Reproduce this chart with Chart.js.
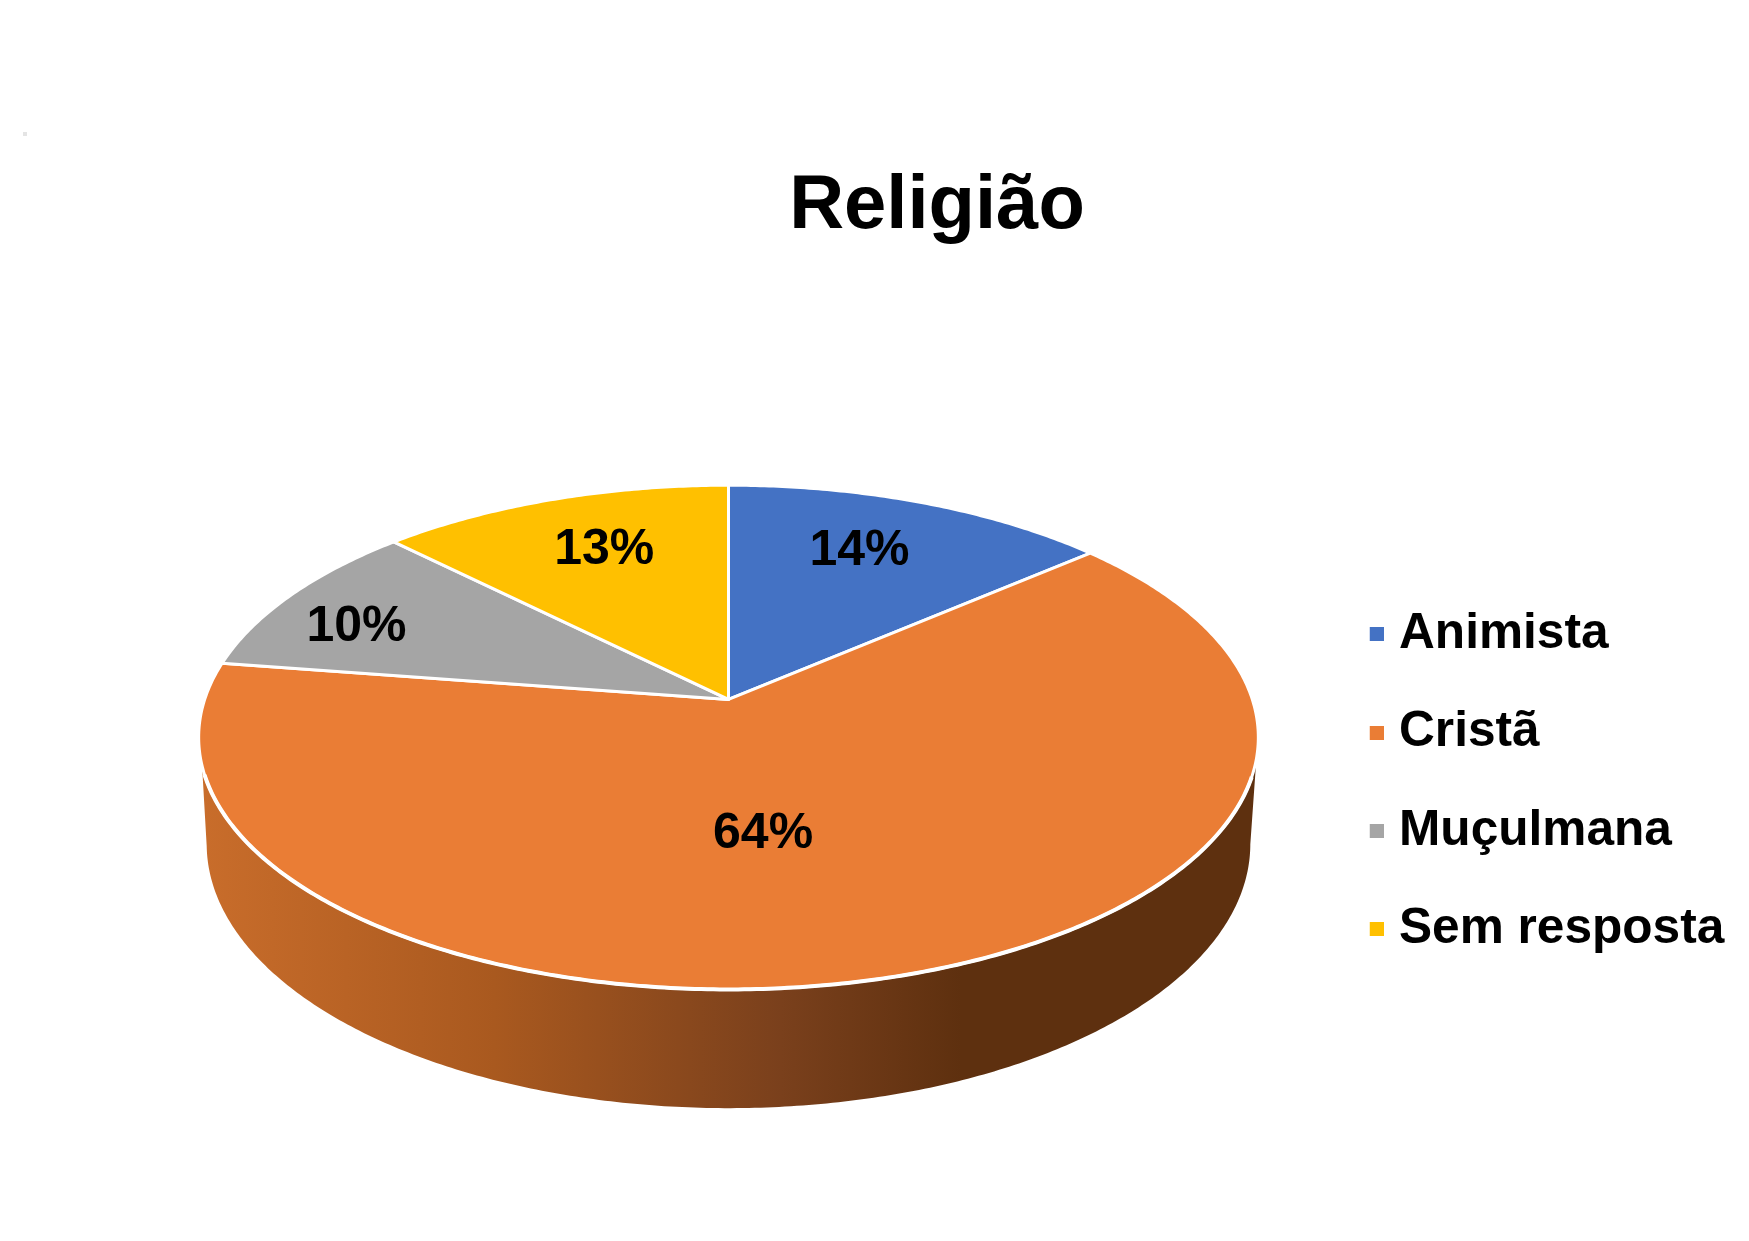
<!DOCTYPE html>
<html>
<head>
<meta charset="utf-8">
<title>Religião</title>
<script src="https://cdn.jsdelivr.net/npm/chart.js@4"></script>
<style>
    html, body { margin: 0; padding: 0; background: #fff; }
    #wrap { position: relative; width: 1749px; height: 1241px; }
    #religion-chart { display: block; filter: blur(0.7px); }
    #speck { position: absolute; left: 23px; top: 132px; width: 4px; height: 4px; background: #e4e4e4; }
</style>
</head>
<body>
<div id="wrap">
    <canvas id="religion-chart" width="1749" height="1241"></canvas>
    <div id="speck"></div>
</div>
<script>
const categories = ['Animista', 'Cristã', 'Muçulmana', 'Sem resposta'];
const shares = [13.7, 63.7, 10.1, 12.5];
const sliceColors = ['#4472C4', '#EA7D35', '#A5A5A5', '#FFC000'];

// label placement inside each slice: fraction of radius, degrees off the mid angle
const labelRadius = [0.73, 0.5, 0.81, 0.73];
const labelShift = [-2.5, 9, -3.6, 1.5];

// tilted disc, worked out from the picture
const disc = { cx: 728.5, cy: 699.4, rx: 523.8, ry: 246.4, k: 0.1504, depth: 107, shrink: 0.015 };

function project(angle, r, z) {
    const u = Math.sin(angle) * r;
    const v = -Math.cos(angle) * r;
    const w = 1 - disc.k * v + disc.shrink * z;
    return {
        x: disc.cx + disc.rx * u / w,
        y: disc.cy + (disc.ry * v + disc.depth * z) / w
    };
}

function traceArc(ctx, from, to, z) {
    const steps = Math.max(2, Math.ceil(Math.abs(to - from) / 0.01));
    for (let i = 0; i <= steps; i++) {
        const p = project(from + (to - from) * i / steps, 1, z);
        ctx.lineTo(p.x, p.y);
    }
}

function deg(d) {
    return d * Math.PI / 180;
}

function swatch(color) {
    const c = document.createElement('canvas');
    c.width = 20;
    c.height = 14;
    const g = c.getContext('2d');
    g.fillStyle = color;
    g.fillRect(6, 0, 14, 14);
    return c;
}

const tiltedPie = {
    id: 'tiltedPie',
    beforeDatasetDraw(chart, args) {
        const ctx = chart.ctx;
        const arcs = args.meta.data;

        // side wall
        const rim = ctx.createLinearGradient(198, 0, 1258, 0);
        rim.addColorStop(0, '#C96D2B');
        rim.addColorStop(0.28, '#A9591F');
        rim.addColorStop(0.55, '#7A401C');
        rim.addColorStop(0.72, '#5E300F');
        rim.addColorStop(1, '#5E300F');
        ctx.save();
        ctx.beginPath();
        traceArc(ctx, deg(103.5), deg(255), 0);
        traceArc(ctx, deg(261), deg(98.6), 1);
        ctx.closePath();
        ctx.fillStyle = rim;
        ctx.fill();

        // top face, angles come from the chart's own arc elements
        ctx.lineJoin = 'round';
        arcs.forEach((arc, i) => {
            const start = arc.startAngle + Math.PI / 2;
            const end = arc.endAngle + Math.PI / 2;
            ctx.beginPath();
            ctx.moveTo(disc.cx, disc.cy);
            traceArc(ctx, start, end, 0);
            ctx.closePath();
            ctx.fillStyle = sliceColors[i];
            ctx.fill();
            ctx.strokeStyle = '#fff';
            ctx.lineWidth = 3;
            ctx.stroke();
        });

        // white lip along the front edge
        ctx.beginPath();
        traceArc(ctx, deg(107.5), deg(253), 0);
        ctx.strokeStyle = '#fff';
        ctx.lineWidth = 4;
        ctx.stroke();

        // percent labels
        ctx.fillStyle = '#000';
        ctx.font = 'bold 50px "Liberation Sans"';
        ctx.textAlign = 'center';
        ctx.textBaseline = 'middle';
        arcs.forEach((arc, i) => {
            const mid = (arc.startAngle + arc.endAngle) / 2 + Math.PI / 2 + deg(labelShift[i]);
            const p = project(mid, labelRadius[i], 0);
            ctx.fillText(Math.round(shares[i]) + '%', p.x, p.y + 3);
        });
        ctx.restore();
        return false;
    }
};

new Chart(document.getElementById('religion-chart'), {
    type: 'pie',
    data: {
        labels: categories,
        datasets: [{
            data: shares,
            backgroundColor: sliceColors
        }]
    },
    options: {
        responsive: false,
        animation: false,
        layout: {
            padding: { left: 139.7, right: 14.7 }
        },
        plugins: {
            tooltip: { enabled: false },
            title: {
                display: true,
                text: 'Religião',
                color: '#000',
                font: { family: '"Liberation Sans"', size: 76, weight: 'bold' },
                padding: { top: 161, bottom: 70.6 }
            },
            legend: {
                display: true,
                position: 'right',
                fullSize: false,
                labels: {
                    color: '#000',
                    font: { family: '"Liberation Sans"', size: 49.6, weight: 'bold' },
                    usePointStyle: true,
                    pointStyleWidth: 1,
                    boxHeight: 14,
                    padding: 48.7,
                    generateLabels(chart) {
                        const items = Chart.overrides.pie.plugins.legend.labels.generateLabels(chart);
                        items.forEach((item, i) => { item.pointStyle = swatch(sliceColors[i]); });
                        return items;
                    }
                }
            }
        }
    },
    plugins: [tiltedPie]
});
</script>
</body>
</html>
